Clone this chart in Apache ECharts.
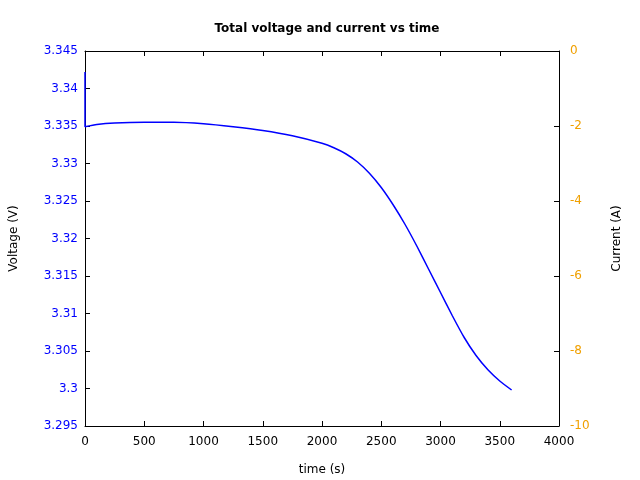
<!DOCTYPE html>
<html>
<head>
<meta charset="utf-8">
<script src="https://cdn.jsdelivr.net/npm/echarts@6/dist/echarts.min.js"></script>
<style>html,body{margin:0;padding:0;background:#fff}#c{width:640px;height:480px}</style>
</head>
<body>
<div id="c"></div>
<script>
var timeS = [0, 0, 100, 250, 500, 750, 1000, 1250, 1500, 1750, 2000, 2100, 2200, 2300, 2400, 2500, 2600, 2700, 2800, 2900, 3000, 3100, 3200, 3300, 3400, 3500, 3600];
var voltageV = [3.3422, 3.3349, 3.3352, 3.3354, 3.3355, 3.3355, 3.3353, 3.3349, 3.3344, 3.3337, 3.3327, 3.3321, 3.3313, 3.3302, 3.3287, 3.3268, 3.3245, 3.3219, 3.3190, 3.3159, 3.3128, 3.3097, 3.3068, 3.3044, 3.3025, 3.3010, 3.2998];
var titleText = 'Total voltage and current vs time';
var xName = 'time (s)';
var yLeftName = 'Voltage (V)';
var yRightName = 'Current (A)';

var font = 'DejaVu Sans';
var data = timeS.map(function (t, i) { return [t, voltageV[i]]; });
var chart = echarts.init(document.getElementById('c'), null, {renderer: 'canvas'});
function axisLine() { return {show: true, onZero: false, lineStyle: {color: '#000', width: 1}}; }
function ticks() { return {show: true, inside: true, length: 5, lineStyle: {color: '#000', width: 1}}; }
chart.setOption({
  animation: false,
  backgroundColor: '#fff',
  title: {
    text: titleText, left: 322, top: 18, textAlign: 'center',
    textStyle: {fontFamily: font, fontSize: 12, fontWeight: 'bold', color: '#000'}
  },
  grid: {left: 85, right: 81, top: 51, bottom: 54, containLabel: false, outerBoundsMode: 'none'},
  xAxis: [{
    type: 'value', min: 0, max: 4000, interval: 500, position: 'bottom',
    name: xName, nameLocation: 'middle', nameGap: 38,
    nameTextStyle: {fontFamily: font, fontSize: 12, color: '#000'},
    axisLine: axisLine(), axisTick: ticks(),
    axisLabel: {fontFamily: font, fontSize: 12, color: '#000', margin: 10,
      formatter: function (v) { return String(v); }},
    splitLine: {show: false}
  }, {
    type: 'value', min: 0, max: 4000, interval: 500, position: 'top',
    axisLine: axisLine(), axisTick: ticks(),
    axisLabel: {show: false},
    splitLine: {show: false}
  }],
  yAxis: [{
    type: 'value', min: 3.295, max: 3.345, interval: 0.005, position: 'left',
    name: yLeftName, nameLocation: 'middle', nameGap: 65,
    nameTextStyle: {fontFamily: font, fontSize: 12, color: '#000'},
    axisLine: axisLine(), axisTick: ticks(),
    axisLabel: {fontFamily: font, fontSize: 12, color: '#0000ff', margin: 7,
      formatter: function (v) { return String(parseFloat(v.toFixed(3))); }},
    splitLine: {show: false}
  }, {
    type: 'value', min: -10, max: 0, interval: 2, position: 'right',
    name: yRightName, nameLocation: 'middle', nameGap: 52,
    nameTextStyle: {fontFamily: font, fontSize: 12, color: '#000'},
    axisLine: axisLine(), axisTick: ticks(),
    axisLabel: {fontFamily: font, fontSize: 12, color: '#f0a000', margin: 11,
      formatter: function (v) { return v < 0 ? '-' + Math.abs(v) : String(v); }},
    splitLine: {show: false}
  }],
  series: [{
    type: 'line', xAxisIndex: 0, yAxisIndex: 0, data: data,
    showSymbol: false, symbol: 'none', smooth: 0.2,
    lineStyle: {color: '#0000ff', width: 1.5},
    z: 3
  }]
});
</script>
</body>
</html>
